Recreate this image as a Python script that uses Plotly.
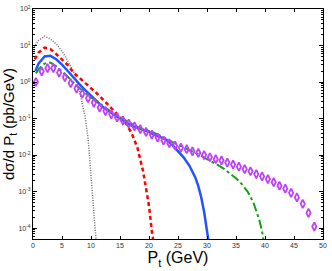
import plotly.graph_objects as go

# ---- data ----
black_x = [0.2, 1, 2, 3, 4, 5, 6, 7, 7.5, 8, 8.5, 9, 9.5, 10, 10.5, 10.9]
black_y = [9, 14, 18, 15, 11, 7, 3.8, 1.9, 1.1, 0.6, 0.25, 0.11, 0.028, 0.0025, 0.00022, 0.00004]

red_x = [0.3, 1, 2, 3, 4, 5, 6, 7, 8, 9, 10, 11, 12, 13, 14, 15, 16, 17, 18, 19, 19.5, 20, 20.5, 20.8]
red_y = [4.2, 6.5, 8.7, 8.0, 5.8, 4.0, 2.9, 1.8, 1.3, 0.95, 0.7, 0.49, 0.34, 0.23, 0.16, 0.11, 0.075,
         0.04, 0.016, 0.0035, 0.0013, 0.0004, 0.00008, 0.00004]

blue_x = [0.4, 1, 2, 3, 4, 5, 6, 7, 8, 9, 10, 11, 12, 13, 14, 15, 16, 17, 18, 19, 20, 21, 22, 23,
          24, 25, 26, 27, 28, 28.5, 29, 29.5, 30, 30.3]
blue_y = [2.0, 3.3, 5.0, 5.2, 4.2, 3.0, 2.0, 1.3, 0.88, 0.6, 0.42, 0.29, 0.21, 0.16, 0.125, 0.098,
          0.079, 0.064, 0.055, 0.049, 0.043, 0.035, 0.031, 0.026, 0.019, 0.013, 0.0085, 0.005,
          0.0024, 0.0014, 0.0007, 0.00028, 0.0001, 0.00004]

green_x = [0.5, 1, 2, 3, 4, 5, 6, 7, 8, 9, 10, 11, 12, 13, 14, 15, 16, 17, 18, 19, 20, 21, 22, 23,
           24, 25, 26, 27, 28, 29, 30, 31, 32, 33, 34, 35, 36, 37, 38, 38.5, 39, 39.5, 39.8]
green_y = [1.7, 2.3, 3.2, 3.4, 2.7, 2.0, 1.4, 0.95, 0.68, 0.5, 0.38, 0.29, 0.22, 0.17, 0.135, 0.108,
           0.087, 0.071, 0.059, 0.05, 0.046, 0.040, 0.034, 0.028, 0.023, 0.019, 0.016, 0.0135,
           0.0115, 0.0095, 0.0079, 0.0065, 0.0052, 0.0041, 0.0031, 0.0023, 0.0016, 0.001, 0.0005,
           0.0003, 0.00017, 0.00008, 0.00004]

purple_x = [0.5, 1.5, 2.5, 3.5, 4.5, 5.5, 6.5, 7.5, 8.5, 9.5, 10.5, 11.5, 12.5, 13.5, 14.5, 15.5,
            16.5, 17.5, 18.5, 19.5, 20.5, 21.5, 22.5, 23.5, 24.5, 25.5, 26.5, 27.5, 28.5, 29.5,
            30.5, 31.5, 32.5, 33.5, 34.5, 35.5, 36.5, 37.5, 38.5, 39.5, 40.5, 41.5, 42.5, 43.5,
            44.5, 45.5, 46.5, 47.5, 48.5]
purple_y = [1.0, 1.95, 2.4, 2.4, 1.8, 1.35, 0.93, 0.66, 0.48, 0.36, 0.27, 0.20, 0.16, 0.13, 0.107,
            0.088, 0.073, 0.061, 0.051, 0.043, 0.036, 0.030, 0.025, 0.021, 0.018, 0.016, 0.0145,
            0.0126, 0.0114, 0.0100, 0.0087, 0.0077, 0.0071, 0.0062, 0.0055, 0.0048, 0.0041,
            0.0036, 0.0030, 0.0026, 0.0022, 0.0018, 0.00144, 0.0012, 0.00092, 0.00069, 0.00046,
            0.00026, 0.00011]

x_ticks = [0, 5, 10, 15, 20, 25, 30, 35, 40, 45, 50]
y_exps = [-4, -3, -2, -1, 0, 1, 2]
y_tickvals = [10.0 ** e for e in y_exps]
y_ticktext = ["10<sup>%d</sup>" % e for e in y_exps]
y_minor = [m * 10.0 ** e for e in range(-5, 2) for m in range(2, 10)]

fig = go.Figure()
fig.add_trace(go.Scatter(x=black_x, y=black_y, mode="lines",
                         line=dict(color="#6a6a6a", width=1.5, dash="1px,1.5px")))
fig.add_trace(go.Scatter(x=red_x, y=red_y, mode="lines",
                         line=dict(color="#ff0000", width=2.5, dash="4px,3px")))
fig.add_trace(go.Scatter(x=blue_x, y=blue_y, mode="lines",
                         line=dict(color="#2255ff", width=2.5)))
fig.add_trace(go.Scatter(x=green_x, y=green_y, mode="lines",
                         line=dict(color="#14a014", width=2, dash="dashdot")))
fig.add_trace(go.Scatter(x=purple_x, y=purple_y, mode="markers",
                         marker=dict(symbol="diamond-tall-open", size=6, color="#c040ff",
                                     line=dict(width=1.8, color="#c040ff"))))

tickfont = dict(family="Liberation Sans, Arial", size=7, color="#333333")
fig.update_layout(
    width=332, height=271,
    margin=dict(l=33, r=5, t=8, b=32),
    paper_bgcolor="white", plot_bgcolor="white",
    showlegend=False,
    font=dict(family="Liberation Sans, Arial", color="black"),
)
fig.update_xaxes(
    range=[0, 50], tickvals=x_ticks, ticks="inside", ticklen=3, tickcolor="black",
    showline=True, linecolor="black", linewidth=1, mirror="ticks", showgrid=False,
    zeroline=False, tickfont=tickfont,
    title=dict(text="P<sub>t</sub> (GeV)", font=dict(size=16), standoff=3),
)
fig.update_yaxes(
    type="log", range=[-4.3, 2], tickvals=y_tickvals, ticktext=y_ticktext,
    ticks="inside", ticklen=4, tickcolor="black",
    minor=dict(tickvals=y_minor, ticks="inside", ticklen=2, tickcolor="black"),
    showline=True, linecolor="black", linewidth=1, mirror="ticks", showgrid=False,
    zeroline=False, tickfont=tickfont,
    title=dict(text="d\u03c3/d P<sub>t</sub> (pb/GeV)", font=dict(size=15), standoff=2),
)
fig.write_html("out.html", config={"displayModeBar": False},
               post_script="document.body.style.margin='0';")
